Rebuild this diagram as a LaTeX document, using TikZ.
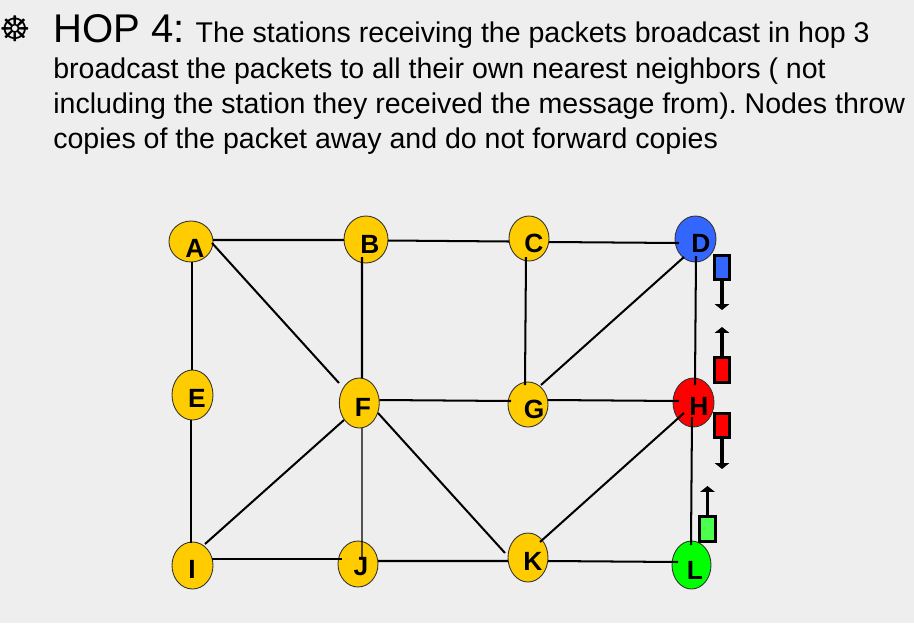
\documentclass[tikz,border=0pt]{standalone}
\usepackage{fontspec}
\setmainfont{Liberation Sans}
\newfontfamily\symfont{DejaVu Sans}
\usetikzlibrary{arrows.meta}
\usetikzlibrary{shapes.geometric}
\definecolor{slidegray}{HTML}{EEEEEE}
\definecolor{stationyellow}{HTML}{FFCC00}
\definecolor{packetblue}{HTML}{3366FF}
\definecolor{packetgreen}{HTML}{4DFF4D}
\definecolor{stationgreen}{HTML}{00FF00}
\frenchspacing
\tikzset{
    station/.style 2 args={ellipse, draw=black!80, line width=0.5pt, fill=stationyellow, inner sep=0pt, minimum width=#1*0.02cm, minimum height=#2*0.02cm},
    stationtag/.style={inner sep=0pt, font=\fontsize{15}{15}\selectfont\bfseries},
    textline/.style={anchor=base west, inner sep=0pt, font=\fontsize{16.24}{16.24}\selectfont},
    link/.style={line width=1.15pt},
    thinlink/.style={line width=0.7pt},
    packet/.style={draw, line width=1.5pt, fill=#1, inner sep=0pt, minimum width=14.5*0.02cm, minimum height=24.5*0.02cm},
    move/.style={line width=2pt, -{Triangle[length=3.4pt,width=8.3pt]}}
}
\begin{document}
\begin{tikzpicture}[x=0.02cm,y=-0.02cm]
    \fill[slidegray] (0,0) rectangle (914,623);
    \useasboundingbox (0,0) rectangle (914,623);

    \node[font=\symfont\fontsize{20}{20}\selectfont, inner sep=0pt] (bullet) at (15.5,29) {☸};
    \node[textline] (line1) at (53,42.5) {\fontsize{22.8}{22.8}\selectfont HOP 4:\fontsize{16.24}{16.24}\selectfont\ \hspace{1.7pt}The stations receiving the packets broadcast in hop 3};
    \node[textline] (line2) at (53,78) {broadcast the packets to all their own nearest neighbors ( not};
    \node[textline] (line3) at (53,113) {including the station they received the message from). Nodes throw};
    \node[textline] (line4) at (53,148) {copies of the packet away and do not forward copies};

    \node[station={44}{41}] (A) at (191,241.5) {};
    \node[station={44}{47}] (B) at (366,239.5) {};
    \node[station={40}{45}] (C) at (529,238.5) {};
    \node[station={41}{46}, fill=packetblue] (D) at (695.5,239) {};
    \node[station={41}{50}] (E) at (192.5,395) {};
    \node[station={40}{50}] (F) at (359.3,403) {};
    \node[station={40}{45}] (G) at (528,404.5) {};
    \node[station={41}{49}, fill=red] (H) at (693.5,402.5) {};
    \node[station={41}{47}] (I) at (192.5,565.5) {};
    \node[station={40}{46}] (J) at (358,564) {};
    \node[station={40}{49}] (K) at (528,557.5) {};
    \node[station={39}{48}, fill=stationgreen] (L) at (691.5,565) {};

    \draw[link] ([shift={(22,-1.5)}]A.center) -- ([shift={(-22,0.5)}]B.center);
    \draw[link] ([shift={(22,1)}]B.center) -- ([shift={(-20,3)}]C.center);
    \draw[link] ([shift={(20,3.5)}]C.center) -- ([shift={(-16.5,4)}]D.center);
    \draw[link] ([shift={(1,20.5)}]A.center) -- ([shift={(-0.5,-25)}]E.center);
    \draw[link] ([shift={(-4,17.5)}]B.center) -- ([shift={(2.7,-25)}]F.center);
    \draw[link] ([shift={(-3,18.5)}]C.center) -- ([shift={(-3,-19.5)}]G.center);
    \draw[link] ([shift={(0.5,17)}]D.center) -- ([shift={(1.5,-17.5)}]H.center);
    \draw[link] ([shift={(21,1.5)}]A.center) -- ([shift={(-20.3,-20)}]F.center);
    \draw[link] ([shift={(-11.5,18)}]D.center) -- ([shift={(13,-19.5)}]G.center);
    \draw[link] ([shift={(-1.5,25)}]E.center) -- ([shift={(-1.5,-22.5)}]I.center);
    \draw[link] ([shift={(20,-3)}]F.center) -- ([shift={(-17,-3.5)}]G.center);
    \draw[link] ([shift={(20,-4.5)}]G.center) -- ([shift={(-14.5,-1.5)}]H.center);
    \draw[link] ([shift={(-15.3,17)}]F.center) -- ([shift={(12.5,-21.5)}]I.center);
    \draw[thinlink] ([shift={(2.7,25)}]F.center) -- ([shift={(4,-6)}]J.center);
    \draw[link] ([shift={(18.7,10)}]F.center) -- ([shift={(-23,-4.5)}]K.center);
    \draw[link] ([shift={(-9.5,10.5)}]H.center) -- ([shift={(12,-15.5)}]K.center);
    \draw[link] ([shift={(-1.5,14.5)}]H.center) -- ([shift={(-0.5,-20)}]L.center);
    \draw[link] ([shift={(19.5,-6.5)}]I.center) -- ([shift={(-16,-5)}]J.center);
    \draw[link] ([shift={(20,-3)}]J.center) -- ([shift={(-20,3.5)}]K.center);
    \draw[link] ([shift={(20,3.5)}]K.center) -- ([shift={(-13.5,-3)}]L.center);

    \node[stationtag] (Atag) at (195,248) {A};
    \node[stationtag] (Btag) at (370,244) {B};
    \node[stationtag] (Ctag) at (534,243) {C};
    \node[stationtag] (Dtag) at (701,243) {D};
    \node[stationtag] (Etag) at (197,398) {E};
    \node[stationtag] (Ftag) at (363,407) {F};
    \node[stationtag] (Gtag) at (534,409) {G};
    \node[stationtag] (Htag) at (699,406) {H};
    \node[stationtag] (Itag) at (192,569) {I};
    \node[stationtag] (Jtag) at (361,567) {J};
    \node[stationtag] (Ktag) at (533,561) {K};
    \node[stationtag] (Ltag) at (695,570) {L};

    \node[packet=packetblue] (pd) at (722,267.5) {};
    \node[packet=red] (ph1) at (722,370) {};
    \node[packet=red] (ph2) at (722,425.5) {};
    \node[packet=packetgreen, minimum width=16.5*0.02cm] (pl) at (707.5,529) {};
    \coordinate (pdend) at (722,310);
    \coordinate (ph1end) at (722,327);
    \coordinate (ph2end) at (722,469);
    \coordinate (plend) at (707.5,486);
    \draw[move] (pd) -- (pdend);
    \draw[move] (ph1) -- (ph1end);
    \draw[move] (ph2) -- (ph2end);
    \draw[move] (pl) -- (plend);
\end{tikzpicture}
\end{document}
